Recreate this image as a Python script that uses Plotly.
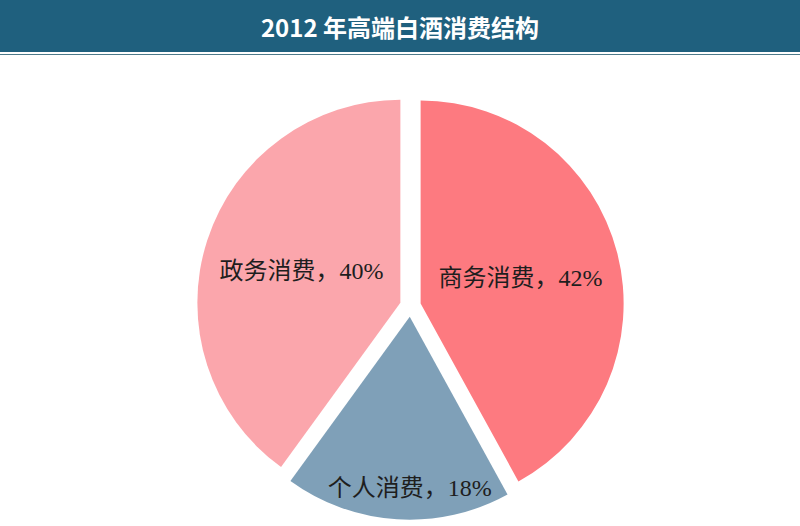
import plotly.graph_objects as go

# data
labels = ["商务消费", "个人消费", "政务消费"]
shares = [42, 18, 40]
colors = ["#fd7a80", "#7fa0b8", "#fba6ac"]
title = "2012 年高端白酒消费结构"

fig = go.Figure()

fig.add_trace(go.Pie(
    labels=labels,
    values=shares,
    sort=False,
    direction="clockwise",
    rotation=0,
    pull=[0.052, 0.052, 0.052],
    marker=dict(colors=colors, line=dict(width=0)),
    texttemplate="%{label}，%{value}%",
    textposition="inside",
    insidetextorientation="horizontal",
    textfont=dict(family="Liberation Serif, Noto Sans CJK SC", size=24, color="#1e1e1e"),
    hoverinfo="label+percent",
    domain=dict(x=[0.246, 0.780], y=[0.012, 0.824]),
    showlegend=False,
))

# title bar
fig.add_shape(type="rect", xref="paper", yref="paper",
              x0=0, x1=1, y0=1 - 52 / 526, y1=1,
              fillcolor="#1f607e", line=dict(width=0), layer="below")
fig.add_shape(type="line", xref="paper", yref="paper",
              x0=0, x1=1, y0=1 - 54.5 / 526, y1=1 - 54.5 / 526,
              line=dict(color="#4d7a8a", width=1.2))

fig.update_layout(
    width=800, height=526,
    margin=dict(l=0, r=0, t=0, b=0),
    paper_bgcolor="white",
    plot_bgcolor="white",
    title=dict(text="<b>" + title + "</b>", x=0.5, xanchor="center",
               y=1 - 29 / 526, yanchor="middle",
               font=dict(family="Noto Sans CJK SC", size=24, color="white")),
)

# drop the default page margin so the figure sits at the window corner
fig.write_html("out.html", config={"displayModeBar": False},
               post_script="document.body.style.margin='0';")
